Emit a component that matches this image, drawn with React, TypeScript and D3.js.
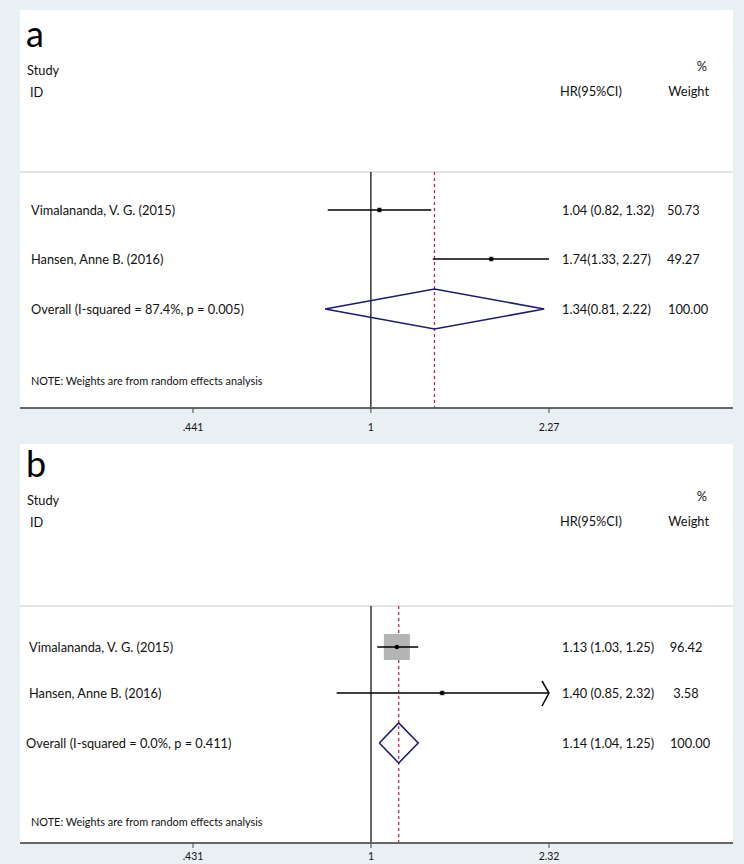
import React from 'react';
import * as d3 from 'd3';

// study labels shared by both panels
const studies = ['Vimalananda, V. G. (2015)', 'Hansen, Anne B. (2016)'];

// panel a
const hrA = [1.04, 1.74];
const loA = [0.82, 1.33];
const hiA = [1.32, 2.27];
const weightA = [50.73, 49.27];
const ciTextA = ['1.04 (0.82, 1.32)', '1.74(1.33, 2.27)'];
const weightTextA = ['50.73', '49.27'];
const overallA = { hr: 1.34, lo: 0.81, hi: 2.22 };
const overallLabelA = 'Overall (I-squared = 87.4%, p = 0.005)';
const overallTextA = '1.34(0.81, 2.22)';
const ticksA = [0.441, 1, 2.27];
const tickLabelsA = ['.441', '1', '2.27'];

// panel b
const hrB = [1.13, 1.4];
const loB = [1.03, 0.85];
const hiB = [1.25, 2.32];
const weightB = [96.42, 3.58];
const ciTextB = ['1.13 (1.03, 1.25)', '1.40 (0.85, 2.32)'];
const weightTextB = ['96.42', '3.58'];
const overallB = { hr: 1.14, lo: 1.04, hi: 1.25 };
const overallLabelB = 'Overall (I-squared = 0.0%, p = 0.411)';
const overallTextB = '1.14 (1.04, 1.25)';
const ticksB = [0.431, 1, 2.32];
const tickLabelsB = ['.431', '1', '2.32'];

const FONT = 'Lato, "Open Sans", sans-serif';
const BG = '#e9f0f3';

type PanelProps = {
  letter: string;
  top: number;
  off: number; // header offset from panel a
  rowY: number[];
  noteY: number;
  axisY: number;
  tickY: number;
  hr: number[];
  lo: number[];
  hi: number[];
  weight: number[];
  ciText: string[];
  weightText: string[];
  overall: { hr: number; lo: number; hi: number };
  overallLabel: string;
  overallText: string;
  ticks: number[];
  tickLabels: string[];
  boxMax: number;
  weightAnchor: 'start' | 'middle';
  weightX: number;
  labelX: number;
};

const Panel = (p: PanelProps) => {
  const left = 20;
  const right = 733;
  const lo = p.ticks[0];
  const hi = p.ticks[p.ticks.length - 1];
  const x = d3.scaleLog().domain([lo, hi]).range([193, 549]);
  const box = d3.scaleSqrt().domain([0, 100]).range([0, p.boxMax]);
  const sepY = 172 + p.off + (p.off ? 4 : 0);
  const diamond = d3.line<[number, number]>();
  const oy = p.rowY[2];
  const dPts: [number, number][] = [
    [x(p.overall.lo), oy],
    [x(p.overall.hr), oy - 20],
    [x(p.overall.hi), oy],
    [x(p.overall.hr), oy + 20],
    [x(p.overall.lo), oy],
  ];
  const txt = { fontFamily: FONT, fontSize: 12.8, fill: '#111' };
  return (
    <g>
      <rect x={left} y={p.top} width={right - left} height={p.axisY - p.top} fill="#fff" />
      <text x={26} y={47 + p.off} style={{ fontFamily: FONT, fontSize: 36, fill: '#000' }}>{p.letter}</text>
      <text x={27} y={75 + p.off} style={txt}>Study</text>
      <text x={30} y={97 + p.off} style={txt}>ID</text>
      <text x={707} y={71 + p.off} textAnchor="end" style={txt}>%</text>
      <text x={560} y={96 + p.off} style={txt}>HR(95%CI)</text>
      <text x={709} y={96 + p.off} textAnchor="end" style={txt}>Weight</text>
      <line x1={left} x2={right} y1={sepY} y2={sepY} stroke="#c8c8c8" strokeWidth={1.2} />
      {/* reference lines */}
      <line x1={x(1)} x2={x(1)} y1={sepY} y2={p.axisY} stroke="#000" strokeWidth={1.2} />
      <line x1={x(p.overall.hr)} x2={x(p.overall.hr)} y1={sepY} y2={p.axisY}
        stroke="#b0243a" strokeWidth={1.2} strokeDasharray="3,3" />
      {p.hr.map((v, i) => {
        const y = p.rowY[i];
        const s = box(p.weight[i]);
        const arrow = p.hi[i] >= hi;
        return (
          <g key={i}>
            <rect x={x(v) - s / 2} y={y - s / 2} width={s} height={s} fill="#b4b4b4" />
            <line x1={x(p.lo[i])} x2={x(p.hi[i])} y1={y} y2={y} stroke="#000" strokeWidth={1.5} />
            {arrow && p.boxMax > 10 && (
              <path d={`M${x(p.hi[i]) - 7},${y - 12}L${x(p.hi[i])},${y}L${x(p.hi[i]) - 7},${y + 13}`}
                fill="none" stroke="#000" strokeWidth={1.5} />
            )}
            <circle cx={x(v)} cy={y} r={2.2} fill="#000" />
            <text x={p.labelX} y={y + 4.5} style={txt}>{studies[i]}</text>
            <text x={562} y={y + 4.5} style={txt}>{p.ciText[i]}</text>
            <text x={p.weightX} y={y + 4.5} textAnchor={p.weightAnchor} style={txt}>{p.weightText[i]}</text>
          </g>
        );
      })}
      <path d={diamond(dPts) ?? ''} fill="none" stroke="#1c1c72" strokeWidth={1.6} />
      <text x={p.labelX - (p.boxMax > 10 ? 3 : 0)} y={oy + 4.5} style={txt}>{p.overallLabel}</text>
      <text x={562} y={oy + 4.5} style={txt}>{p.overallText}</text>
      <text x={p.weightAnchor === 'start' ? 668 : 690} y={oy + 4.5} textAnchor={p.weightAnchor} style={txt}>100.00</text>
      <text x={31} y={p.noteY} style={{ ...txt, fontSize: 10.9 }}>NOTE: Weights are from random effects analysis</text>
      {/* x axis */}
      <line x1={left} x2={right} y1={p.axisY} y2={p.axisY} stroke="#666" strokeWidth={2} />
      {p.ticks.map((t, i) => (
        <g key={t}>
          <line x1={x(t)} x2={x(t)} y1={p.axisY} y2={p.axisY + 5} stroke="#444" strokeWidth={1} />
          <text x={x(t)} y={p.tickY} textAnchor="middle"
            style={{ fontFamily: FONT, fontSize: 10.5, fill: '#111' }}>{p.tickLabels[i]}</text>
        </g>
      ))}
    </g>
  );
};

export default function App() {
  return (
    <svg width={744} height={864} style={{ position: 'absolute', left: 0, top: 0, background: BG }}>
      <rect width={744} height={864} fill={BG} />
      <Panel letter="a" top={10} off={0} rowY={[210, 259, 309]} noteY={385} axisY={408} tickY={431}
        hr={hrA} lo={loA} hi={hiA} weight={weightA} ciText={ciTextA} weightText={weightTextA}
        overall={overallA} overallLabel={overallLabelA} overallText={overallTextA}
        ticks={ticksA} tickLabels={tickLabelsA} boxMax={7} weightAnchor="start" weightX={667} labelX={31} />
      <Panel letter="b" top={444} off={430} rowY={[647, 693, 743]} noteY={826} axisY={843} tickY={860}
        hr={hrB} lo={loB} hi={hiB} weight={weightB} ciText={ciTextB} weightText={weightTextB}
        overall={overallB} overallLabel={overallLabelB} overallText={overallTextB}
        ticks={ticksB} tickLabels={tickLabelsB} boxMax={26.5} weightAnchor="middle" weightX={686} labelX={29} />
    </svg>
  );
}
